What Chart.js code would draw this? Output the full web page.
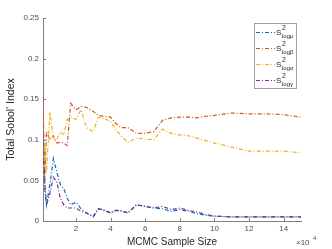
<!DOCTYPE html>
<html>
<head>
<meta charset="utf-8">
<script src="https://cdn.jsdelivr.net/npm/chart.js@4/dist/chart.umd.min.js"></script>
<style>
html,body{margin:0;padding:0;background:#fff;}
#wrap{width:332px;height:249px;position:relative;}
</style>
</head>
<body>
<div id="wrap"><canvas id="c" width="332" height="249"></canvas></div>
<script>
// Sample sizes (x 10^4)
const xValues = [0.1,0.2,0.3,0.5,0.7,0.9,1.1,1.3,1.5,1.7,2.0,2.3,2.6,3.0,3.3,3.6,4.0,4.3,4.6,5.0,5.5,6.0,6.5,7.0,7.5,8.0,8.5,9.0,9.5,10,11,12,13,14,15];
const sLogMu    = [0.11,0.05,0.02,0.045,0.077,0.06,0.045,0.04,0.028,0.02,0.023,0.015,0.01,0.006,0.015,0.014,0.01,0.013,0.013,0.01,0.02,0.018,0.016,0.015,0.012,0.014,0.012,0.009,0.007,0.006,0.005,0.005,0.005,0.005,0.005];
const sLogBeta  = [0.152,0.05,0.11,0.10,0.105,0.096,0.097,0.096,0.093,0.145,0.137,0.141,0.140,0.135,0.130,0.129,0.128,0.120,0.115,0.115,0.108,0.108,0.110,0.124,0.127,0.128,0.128,0.127,0.129,0.130,0.133,0.132,0.132,0.131,0.128];
const sLogSigma = [0.055,0.095,0.06,0.134,0.10,0.10,0.11,0.106,0.125,0.128,0.125,0.137,0.115,0.11,0.128,0.127,0.122,0.113,0.105,0.097,0.102,0.101,0.10,0.113,0.108,0.106,0.105,0.102,0.099,0.096,0.091,0.086,0.086,0.086,0.084];
const sLogGamma = [0.085,0.04,0.02,0.034,0.054,0.048,0.028,0.02,0.016,0.016,0.016,0.012,0.01,0.005,0.015,0.013,0.01,0.013,0.012,0.01,0.02,0.018,0.016,0.018,0.014,0.016,0.013,0.011,0.008,0.006,0.005,0.005,0.005,0.005,0.005];
const seriesSubs = ['log\u03BC','log\u03B2','log\u03C3','log\u03B3'];
const xTickValues = [2,4,6,8,10,12,14];
const yTickValues = [0,0.05,0.1,0.15,0.2,0.25];
const yTickLabels = ['0','0.05','0.1','0.15','0.2','0.25'];

const colors = ['#0072BD','#D95319','#EDB120','#7E2F8E'];
const allSeries = [sLogMu,sLogBeta,sLogSigma,sLogGamma];
const dash = [4,2,1,2];
const FONT = '"Liberation Sans", Arial, sans-serif';

const datasets = allSeries.map((s,i)=>({
  label: 'S2' + seriesSubs[i],
  data: xValues.map((x,j)=>({x:x,y:s[j]})),
  borderColor: colors[i],
  backgroundColor: colors[i],
  borderWidth: 1.2,
  borderDash: dash,
  pointRadius: 0,
  tension: 0,
  fill: false,
  order: 3 - i
}));

const inwardTicks = {
  id:'inwardTicks',
  afterDatasetsDraw(chart){
    const ctx = chart.ctx, xs = chart.scales.x, ys = chart.scales.y, a = chart.chartArea;
    ctx.save();
    ctx.strokeStyle = '#808080'; ctx.lineWidth = 1;
    ctx.beginPath();
    xTickValues.forEach(v=>{const p=Math.round(xs.getPixelForValue(v))+0.5; ctx.moveTo(p,a.bottom); ctx.lineTo(p,a.bottom-3);});
    yTickValues.forEach(v=>{const p=Math.round(ys.getPixelForValue(v))+0.5; ctx.moveTo(a.left,p); ctx.lineTo(a.left+3,p);});
    ctx.stroke();
    // exponent label
    ctx.fillStyle = '#4d4d4d';
    ctx.font = '8px ' + FONT;
    ctx.textBaseline = 'alphabetic';
    ctx.fillText('\u00D710', 296, 245);
    ctx.font = '6px ' + FONT;
    ctx.fillText('4', 313, 240);
    // legend
    const lx=254, ly=23, lw=42, lh=65;
    ctx.fillStyle='#fff'; ctx.fillRect(lx,ly,lw,lh);
    ctx.strokeStyle='#a0a0a0'; ctx.strokeRect(lx+0.5,ly+0.5,lw,lh);
    chart.data.datasets.forEach((d,i)=>{
      const y = 32 + i*16;
      ctx.strokeStyle = d.borderColor; ctx.lineWidth = 1.2; ctx.setLineDash(dash);
      ctx.beginPath(); ctx.moveTo(256,y+0.5); ctx.lineTo(275,y+0.5); ctx.stroke();
      ctx.setLineDash([]);
      ctx.fillStyle = '#262626';
      ctx.font = '8px ' + FONT;
      ctx.fillText('S', 276, y+3);
      ctx.font = '7px ' + FONT;
      ctx.fillText('2', 282, y-2);
      ctx.font = '6px ' + FONT;
      ctx.fillText(seriesSubs[i], 282, y+6);
    });
    ctx.restore();
  }
};

new Chart(document.getElementById('c'), {
  type:'line',
  data:{datasets:datasets},
  options:{
    responsive:false,
    animation:false,
    devicePixelRatio:1,
    layout:{padding:{left:0,right:31,top:18,bottom:0}},
    plugins:{legend:{display:false},tooltip:{enabled:false}},
    scales:{
      x:{
        type:'linear', min:0.1, max:15,
        afterBuildTicks(s){ s.ticks = xTickValues.map(v=>({value:v})); },
        afterFit(s){ s.height = 28; },
        grid:{display:true, drawOnChartArea:false, drawTicks:false, color:'rgba(0,0,0,0)'},
        border:{display:true,color:'#808080',width:1},
        ticks:{color:'#4d4d4d', font:{family:FONT,size:8}, padding:3, maxRotation:0, callback:(v)=>String(v)},
        title:{display:true,text:'MCMC Sample Size',color:'#262626',font:{family:FONT,size:10},padding:{top:0,bottom:1}}
      },
      y:{
        min:0, max:0.25,
        afterBuildTicks(s){ s.ticks = yTickValues.map(v=>({value:v})); },
        afterFit(s){ s.width = 43; },
        grid:{display:true, drawOnChartArea:false, drawTicks:false, color:'rgba(0,0,0,0)'},
        border:{display:true,color:'#808080',width:1},
        ticks:{color:'#4d4d4d', font:{family:FONT,size:8}, padding:4,
          callback:(v)=>{const i=yTickValues.findIndex(t=>Math.abs(t-v)<1e-9); return i>=0?yTickLabels[i]:'';}},
        title:{display:true,text:"Total Sobol' Index",color:'#262626',font:{family:FONT,size:10.5},padding:{top:5,bottom:2}}
      }
    }
  },
  plugins:[inwardTicks]
});
</script>
</body>
</html>
